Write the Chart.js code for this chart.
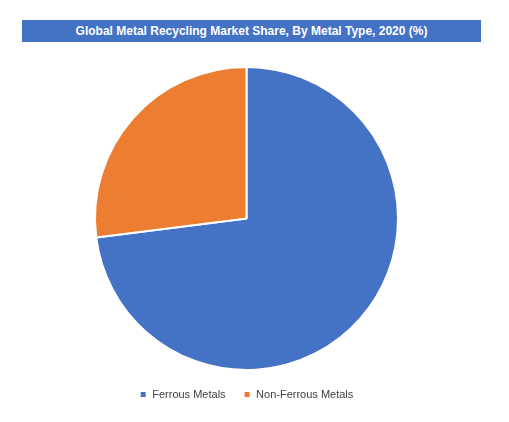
<!DOCTYPE html>
<html>
<head>
<meta charset="utf-8">
<script src="https://cdn.jsdelivr.net/npm/chart.js@4"></script>
<style>
  body { margin: 0; background: #fff; font-family: Calibri, Carlito, "Liberation Sans", sans-serif; }
  #title { position: absolute; left: 22px; top: 20px; width: 459px; height: 22px; background: #4472C4;
           color: #fff; font: bold 12px "Liberation Sans", sans-serif; text-align: center; line-height: 22px; }
  #wrap { position: absolute; left: 0; top: 0; width: 509px; height: 422px; }
</style>
</head>
<body>
<div id="wrap"><canvas id="pie"></canvas></div>
<div id="title">Global Metal Recycling Market Share, By Metal Type, 2020 (%)</div>
<script>
const labels = ['Ferrous Metals', 'Non-Ferrous Metals'];
const shares = [73, 27];
const colors = ['#4472C4', '#ED7D31'];

new Chart(document.getElementById('pie'), {
    type: 'pie',
    data: {
        labels: labels,
        datasets: [{ data: shares, backgroundColor: colors, borderColor: '#fff', borderWidth: 2 }]
    },
    options: {
        responsive: true,
        maintainAspectRatio: false,
        animation: false,
        layout: { padding: { top: 66, bottom: 12, right: 16 } },
        plugins: {
            tooltip: { enabled: false },
            legend: {
                position: 'bottom',
                labels: {
                    usePointStyle: true, pointStyle: 'rect', boxWidth: 7, boxHeight: 7,
                    padding: 18, color: '#404040',
                    font: { family: 'Liberation Sans', size: 11 }
                }
            }
        }
    }
});
</script>
</body>
</html>
